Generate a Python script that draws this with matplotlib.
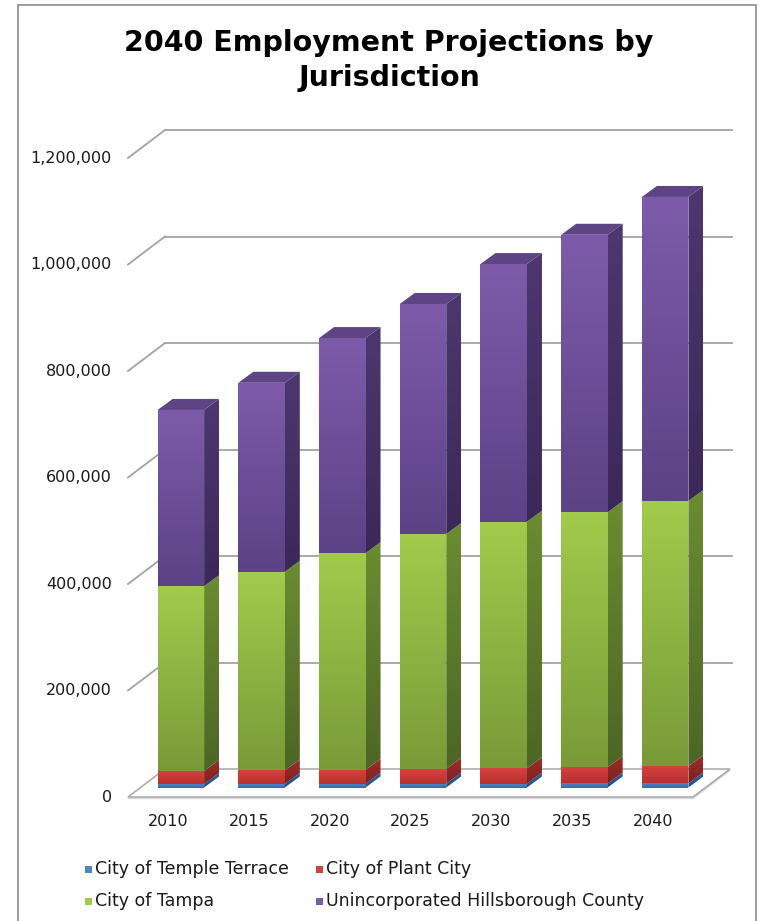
import numpy as np
import matplotlib
matplotlib.use("Agg")
import matplotlib.pyplot as plt
from matplotlib.patches import Polygon, Rectangle
from matplotlib.colors import to_rgb

# ---------------- data ----------------
years = ["2010", "2015", "2020", "2025", "2030", "2035", "2040"]
series_names = ["City of Temple Terrace", "City of Plant City",
                "City of Tampa", "Unincorporated Hillsborough County"]
temple_terrace = [6500, 6700, 7000, 7200, 7400, 7600, 7800]
plant_city = [24500, 25300, 26000, 27800, 28600, 30400, 32200]
tampa = [347000, 373000, 407000, 441000, 463000, 479000, 498000]
unincorporated = [331000, 355000, 404000, 432000, 484000, 521000, 571000]
y_ticks = [0, 200000, 400000, 600000, 800000, 1000000, 1200000]
y_tick_labels = ["0", "200,000", "400,000", "600,000", "800,000",
                 "1,000,000", "1,200,000"]

series = [temple_terrace, plant_city, tampa, unincorporated]
front_top = ["#4F82C6", "#D6423F", "#A1CB4C", "#7D5BAA"]
front_bot = ["#3A68AA", "#B8312F", "#7A9A38", "#5C4286"]
side_top = ["#2F5E9E", "#9E2D2B", "#6B8C31", "#4D376F"]
side_bot = ["#244C84", "#7C211F", "#4C6624", "#3B2858"]
top_face = ["#3F6FB0", "#A93230", "#86A93E", "#5E4485"]

# ---------------- figure geometry ----------------
W_PX, H_PX = 762, 921
fig = plt.figure(figsize=(W_PX / 100, H_PX / 100), dpi=100)
ax_l, ax_r, ax_b, ax_t = 128, 693, 797, 158  # pixel edges of front plane
ax = fig.add_axes([ax_l / W_PX, 1 - ax_b / H_PX,
                   (ax_r - ax_l) / W_PX, (ax_b - ax_t) / H_PX])
ax.set_axis_off()
n = len(years)
xmin, xmax = -0.5, n - 0.5
ymin, ymax = 0, 1200000
ax.set_xlim(xmin, xmax)
ax.set_ylim(ymin, ymax)

px_x = (ax_r - ax_l) / (xmax - xmin)   # pixels per x unit
px_y = (ax_b - ax_t) / (ymax - ymin)   # pixels per y unit


def ux(p):
    return p / px_x


def uy(p):
    return p / px_y


# depth offsets (pixels)
wall_dx, wall_dy = 37, 28
bar_fx, bar_fy = 12.5, 9.5
bar_dx, bar_dy = 15, 11
bar_w = ux(46.5)

grid_col = "#A3A3A3"


def grad_fill(verts, ctop, cbot, z):
    poly = Polygon(verts, closed=True, facecolor="none", edgecolor="none",
                   transform=ax.transData, clip_on=False)
    ax.add_patch(poly)
    xs = [v[0] for v in verts]
    ys = [v[1] for v in verts]
    t = np.linspace(0, 1, 64)[:, None]
    c1 = np.array(to_rgb(ctop))
    c2 = np.array(to_rgb(cbot))
    img = (c1 * (1 - t) + c2 * t)[:, None, :]
    im = ax.imshow(img, extent=[min(xs), max(xs), min(ys), max(ys)],
                   origin="upper", aspect="auto", interpolation="bilinear",
                   zorder=z)
    im.set_clip_box(fig.bbox)
    im.set_clip_path(poly)


# back wall gridlines + left diagonals
for v in y_ticks[1:]:
    ax.plot([xmin, xmin + ux(wall_dx)], [v, v + uy(wall_dy)],
            color=grid_col, lw=1.3, clip_on=False, zorder=1)
    ax.plot([xmin + ux(wall_dx), xmax + ux(wall_dx) + ux(2)],
            [v + uy(wall_dy), v + uy(wall_dy)],
            color=grid_col, lw=1.3, clip_on=False, zorder=1)

# floor
floor = [(xmin, 0), (xmax, 0), (xmax + ux(wall_dx), uy(wall_dy)),
         (xmin + ux(wall_dx), uy(wall_dy))]
ax.add_patch(Polygon([(x, y - uy(1.5)) for x, y in floor], closed=True,
                     facecolor="#E8E8E8", edgecolor="#D8D8D8", lw=1,
                     clip_on=False, zorder=1.5))
ax.add_patch(Polygon(floor, closed=True, facecolor="white",
                     edgecolor="#A8A8A8", lw=1.1, clip_on=False, zorder=2))

# bars
for i in range(n):
    cx = i + ux(bar_fx)
    x0, x1 = cx - bar_w / 2, cx + bar_w / 2
    base = uy(bar_fy)
    ddx, ddy = ux(bar_dx), uy(bar_dy)
    bottom = 0
    z = 3 + i
    for k, s in enumerate(series):
        v = s[i]
        y0, y1 = base + bottom, base + bottom + v
        grad_fill([(x0, y0), (x1, y0), (x1, y1), (x0, y1)],
                  front_top[k], front_bot[k], z)
        grad_fill([(x1, y0), (x1 + ddx, y0 + ddy), (x1 + ddx, y1 + ddy),
                   (x1, y1)], side_top[k], side_bot[k], z)
        if k == len(series) - 1:
            ax.add_patch(Polygon([(x0, y1), (x1, y1), (x1 + ddx, y1 + ddy),
                                  (x0 + ddx, y1 + ddy)], closed=True,
                                 facecolor=top_face[k], edgecolor="none",
                                 clip_on=False, zorder=z))
        bottom += v

ax.set_xlim(xmin, xmax)
ax.set_ylim(ymin, ymax)

# tick labels
for v, lab in zip(y_ticks, y_tick_labels):
    ax.text(xmin - ux(16), v, lab, ha="right", va="center",
            fontsize=11.5, color="#1a1a1a", clip_on=False)
for i, lab in enumerate(years):
    ax.text(i, -uy(24), lab, ha="center", va="center",
            fontsize=11.5, color="#1a1a1a", clip_on=False)

# title
fig.text(389 / W_PX, 1 - 51 / H_PX, "2040 Employment Projections by",
         ha="center", va="baseline", fontsize=20.5, fontweight="bold")
fig.text(389 / W_PX, 1 - 86 / H_PX, "Jurisdiction",
         ha="center", va="baseline", fontsize=20.5, fontweight="bold")

# border
fig.add_artist(Rectangle((18 / W_PX, -0.02), (756 - 18) / W_PX,
                         1.02 - 5 / H_PX, transform=fig.transFigure,
                         facecolor="none", edgecolor="#8C8C8C", lw=1.2))

# legend
col_x = [85, 316]
row_y = [869, 901]
for k, name in enumerate(series_names):
    c, r = k % 2, k // 2
    sq = 7
    fig.add_artist(Rectangle((col_x[c] / W_PX, 1 - (row_y[r] + sq / 2) / H_PX),
                             sq / W_PX, sq / H_PX, transform=fig.transFigure,
                             facecolor=front_top[k], edgecolor="none"))
    fig.text((col_x[c] + 10) / W_PX, 1 - row_y[r] / H_PX, name,
             ha="left", va="center", fontsize=12.5, color="#1a1a1a")

fig.savefig("out.png", dpi=100)
